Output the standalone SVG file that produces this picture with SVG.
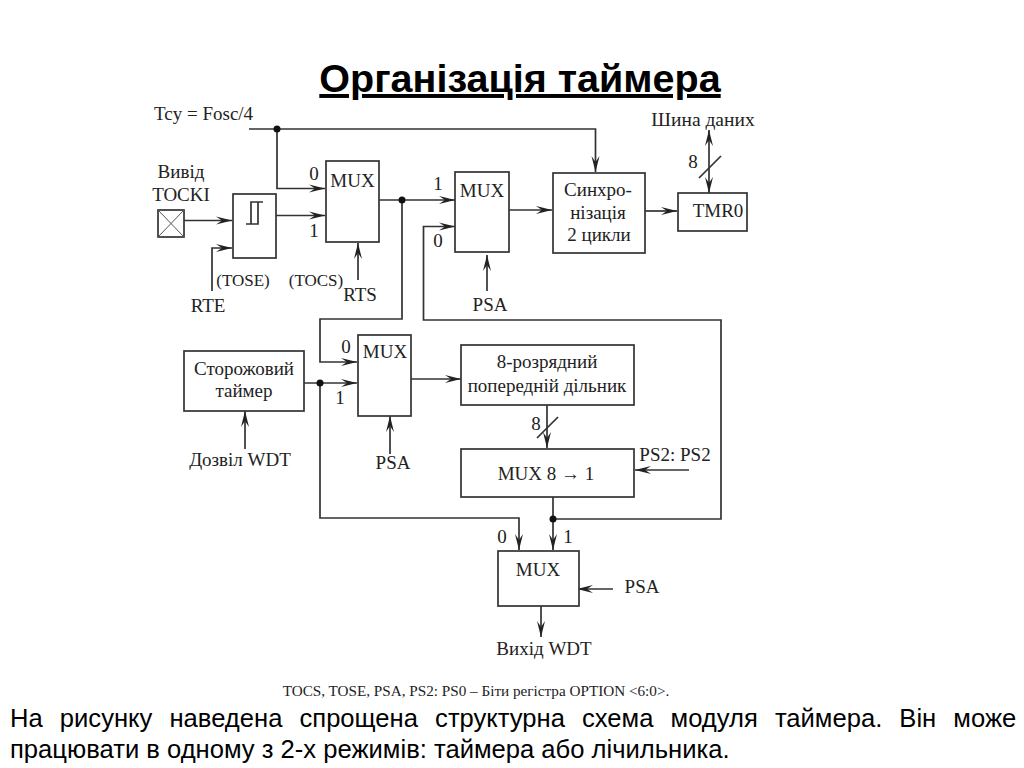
<svg xmlns="http://www.w3.org/2000/svg" width="1024" height="768" viewBox="0 0 1024 768">
<style>
.b{fill:#fff;stroke:#333;stroke-width:1.7}
.c{fill:none;stroke:#333;stroke-width:1.7;marker-end:url(#a)}
.n{fill:none;stroke:#333;stroke-width:1.7}
.t{font-family:"Liberation Serif",serif;font-size:19px;fill:#222}
.p{font-size:17px}
.m{text-anchor:middle}
.s{font-family:"Liberation Sans",Arial,sans-serif;font-size:25.6px;fill:#000}
.d{fill:#111}
</style>
<defs>
<marker id="a" markerUnits="userSpaceOnUse" markerWidth="18" markerHeight="12" refX="16" refY="6" orient="auto-start-reverse" overflow="visible"><path d="M0,2 L16,6 L0,10 L6,6 Z" fill="#222"/></marker>
</defs>
<rect width="1024" height="768" fill="#fff"/>
<text id="title" x="520" y="92" text-anchor="middle" font-family="'Liberation Sans',Arial,sans-serif" font-size="39.5" font-weight="bold" text-decoration="underline" fill="#000">Організація таймера</text>
<g id="connectors">
<path class="c" d="M249,129 H595.5 V172"/>
<path class="c" d="M277,129 V188.5 H325"/>
<path class="c" d="M184,220.5 H232"/>
<path class="c" d="M212,291 V248 H232"/>
<path class="c" d="M276,215.5 H325"/>
<path class="c" d="M358,280 V243"/>
<path class="c" d="M379,200 H455"/>
<path class="c" d="M402,200 V319 H320 V362 H357"/>
<path class="c" d="M553,519 H721 V320 H423.500 V226.500 H455"/>
<path class="c" d="M509,210 H552"/>
<path class="c" d="M487,291 V255"/>
<path class="c" d="M645,211 H677"/>
<path class="c" d="M709,160 V130"/>
<path class="c" d="M709,160 V193"/>
<path class="n" d="M699,178 L721,156"/>
<path class="c" d="M304,383 H357"/>
<path class="c" d="M320,383 V518 H519 V550"/>
<path class="c" d="M245,449 V411"/>
<path class="c" d="M390,454 V416"/>
<path class="c" d="M411,379 H461"/>
<path class="c" d="M547,405 V448"/>
<path class="n" d="M537,438 L558,417"/>
<path class="c" d="M689,470 H635"/>
<path class="c" d="M553,497 V550"/>
<path class="c" d="M613,589 H577"/>
<path class="c" d="M541,606 V637"/>
<circle class="d" cx="277" cy="129" r="3.500"/>
<circle class="d" cx="402" cy="200" r="3.500"/>
<circle class="d" cx="320" cy="383" r="3.500"/>
<circle class="d" cx="553" cy="519" r="3.500"/>
</g>
<g id="tcy"><text class="t" x="154" y="120">Tcy = Fosc/4</text></g>
<g id="tocki">
<text class="t m" x="181" y="178">Вивід</text>
<text class="t m" x="181" y="201">TOCKI</text>
<rect class="b" x="158" y="210" width="26" height="27"/>
<path d="M158,210 L184,237 M184,210 L158,237" stroke="#555" fill="none"/>
</g>
<g id="schmitt">
<rect class="b" x="233" y="194" width="43" height="64"/>
<path class="n" d="M246,224 H258 V202 H263 M251,224 V202 H258"/>
<text class="t p m" x="243" y="286">(TOSE)</text>
<text class="t m" x="208" y="312">RTE</text>
</g>
<g id="mux1">
<rect class="b" x="326" y="161" width="53" height="81"/>
<text class="t m" x="352.500" y="187">MUX</text>
<text class="t m" x="314" y="180">0</text>
<text class="t m" x="314" y="237">1</text>
<text class="t p m" x="316" y="286">(TOCS)</text>
<text class="t m" x="360" y="301">RTS</text>
</g>
<g id="mux2">
<rect class="b" x="455" y="172" width="54" height="80"/>
<text class="t m" x="482" y="197">MUX</text>
<text class="t m" x="438" y="190">1</text>
<text class="t m" x="438" y="247">0</text>
<text class="t m" x="490" y="311">PSA</text>
</g>
<g id="sync">
<rect class="b" x="553" y="173" width="92" height="80"/>
<text class="t m" x="598" y="196">Синхро-</text>
<text class="t m" x="598" y="219">нізація</text>
<text class="t m" x="599" y="241">2 цикли</text>
</g>
<g id="tmr0">
<rect class="b" x="678" y="193" width="69" height="38"/>
<text class="t m" x="718" y="217">TMR0</text>
<text class="t m" x="693" y="168">8</text>
<text class="t m" x="703" y="126" style="font-size:19.5px">Шина даних</text>
</g>
<g id="watchdog">
<rect class="b" x="184" y="351" width="120" height="60"/>
<text class="t m" x="244" y="375">Сторожовий</text>
<text class="t m" x="244" y="397">таймер</text>
<text class="t m" x="240" y="466">Дозвіл WDT</text>
</g>
<g id="mux3">
<rect class="b" x="358" y="335" width="53" height="81"/>
<text class="t m" x="385" y="358">MUX</text>
<text class="t m" x="346" y="353">0</text>
<text class="t m" x="340" y="404">1</text>
<text class="t m" x="393" y="469">PSA</text>
</g>
<g id="prescaler">
<rect class="b" x="461" y="345" width="173" height="60"/>
<text class="t m" x="547" y="368">8-розрядний</text>
<text class="t m" x="547" y="392">попередній дільник</text>
<text class="t m" x="536" y="430">8</text>
</g>
<g id="mux8">
<rect class="b" x="461" y="449" width="173" height="48"/>
<text class="t m" x="546" y="480">MUX 8 → 1</text>
<text class="t m" x="675" y="461">PS2: PS2</text>
</g>
<g id="mux4">
<rect class="b" x="498" y="551" width="81" height="55"/>
<text class="t m" x="538" y="576">MUX</text>
<text class="t m" x="502" y="543">0</text>
<text class="t m" x="568" y="543">1</text>
<text class="t m" x="642" y="593">PSA</text>
<text class="t m" x="544" y="655">Вихід WDT</text>
</g>
<text x="476" y="696" text-anchor="middle" font-family="'Liberation Serif',serif" font-size="15.2" fill="#222">TOCS, TOSE, PSA, PS2: PS0 – Біти регістра OPTION &lt;6:0&gt;.</text>
<text class="s" x="10" y="727" word-spacing="10">На рисунку наведена спрощена структурна схема модуля таймера. Він може</text>
<text class="s" x="10" y="758">працювати в одному з 2-х режимів: таймера або лічильника.</text>
</svg>
